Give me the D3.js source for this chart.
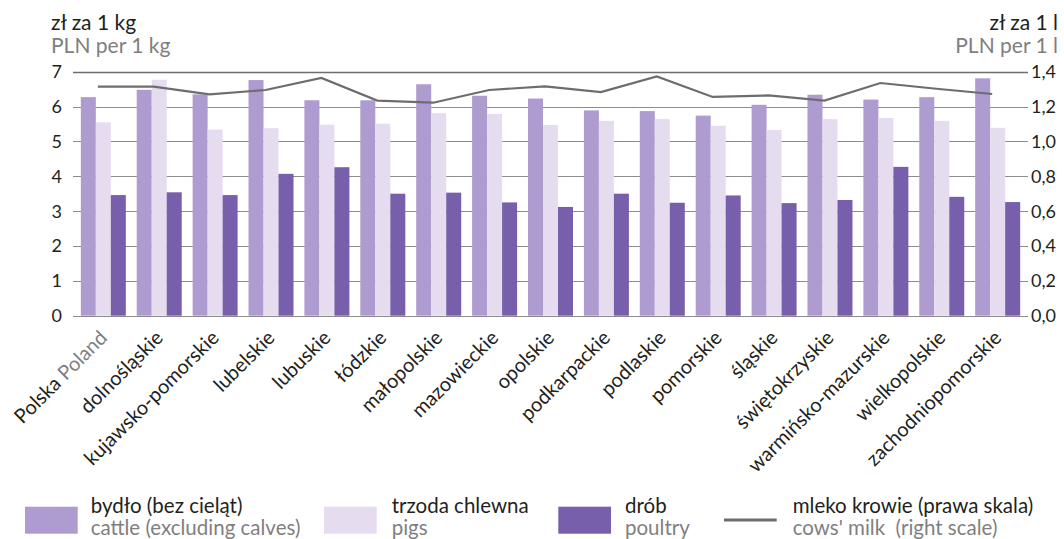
<!DOCTYPE html>
<html lang="pl">
<head>
<meta charset="utf-8">
<title>Ceny skupu</title>
<script src="https://d3js.org/d3.v7.min.js"></script>
<style>
  body { margin: 0; background: #fff; }
  svg text { font-family: Lato, "Open Sans", sans-serif; }
</style>
</head>
<body>
<script>
var width = 1064, height = 539;

// regions
var regions = ["Polska", "dolnośląskie", "kujawsko-pomorskie", "lubelskie", "lubuskie", "łódzkie",
  "małopolskie", "mazowieckie", "opolskie", "podkarpackie", "podlaskie", "pomorskie", "śląskie",
  "świętokrzyskie", "warmińsko-mazurskie", "wielkopolskie", "zachodniopomorskie"];

// PLN per 1 kg
var cattle  = [6.27, 6.48, 6.35, 6.76, 6.18, 6.18, 6.64, 6.31, 6.23, 5.89, 5.87, 5.74, 6.05, 6.34, 6.20, 6.27, 6.81];
var pigs    = [5.55, 6.77, 5.34, 5.38, 5.48, 5.51, 5.81, 5.79, 5.47, 5.59, 5.64, 5.45, 5.33, 5.64, 5.67, 5.59, 5.39];
var poultry = [3.46, 3.54, 3.46, 4.07, 4.26, 3.50, 3.53, 3.25, 3.12, 3.50, 3.24, 3.45, 3.23, 3.32, 4.27, 3.41, 3.26];
// PLN per 1 l (right scale)
var milk    = [1.314, 1.314, 1.270, 1.295, 1.364, 1.234, 1.222, 1.295, 1.316, 1.283, 1.373, 1.255, 1.264, 1.234, 1.335, 1.302, 1.272];

var leftTicks = [0, 1, 2, 3, 4, 5, 6, 7];
var rightTicks = [0, 0.2, 0.4, 0.6, 0.8, 1.0, 1.2, 1.4];

var seriesKeys = ["cattle", "pigs", "poultry"];
var colors = { cattle: "#ae9bd0", pigs: "#e5ddef", poultry: "#775fab" };
var ink = "#231f20", grey = "#7f7f7f";

var svg = d3.select("body").append("svg")
  .attr("width", width)
  .attr("height", height);

var plotLeft = 73, plotRight = 1028, plotTop = 71.7, plotBottom = 315.7;

var x0 = d3.scaleBand()
  .domain(regions)
  .range([plotLeft, plotRight])
  .paddingInner(0.195)
  .paddingOuter(0.14);

var x1 = d3.scaleBand()
  .domain(seriesKeys)
  .range([0, x0.bandwidth()]);

var yL = d3.scaleLinear().domain([0, 7]).range([plotBottom, plotTop]);
var yR = d3.scaleLinear().domain([0, 1.4]).range([plotBottom, plotTop]);

// gridlines
svg.append("g")
  .selectAll("line")
  .data(leftTicks)
  .enter().append("line")
    .attr("x1", plotLeft).attr("x2", plotRight)
    .attr("y1", function(d) { return Math.round(yL(d)) + 0.5; })
    .attr("y2", function(d) { return Math.round(yL(d)) + 0.5; })
    .attr("stroke", function(d) { return d == 7 ? "#6e6e6e" : "#8c8c8c"; })
    .attr("stroke-width", function(d) { return d == 7 ? 1.6 : 1.1; });

// left axis labels
svg.append("g")
  .selectAll("text")
  .data(leftTicks)
  .enter().append("text")
    .attr("x", 62)
    .attr("y", function(d) { return yL(d); })
    .attr("dy", "0.36em")
    .attr("text-anchor", "end")
    .attr("font-size", 18)
    .attr("fill", ink)
    .text(function(d) { return d; });

// right axis labels
var fmt = function(d) { return d.toFixed(1).replace(".", ","); };
svg.append("g")
  .selectAll("text")
  .data(rightTicks)
  .enter().append("text")
    .attr("x", 1031)
    .attr("y", function(d) { return yR(d); })
    .attr("dy", "0.36em")
    .attr("font-size", 18)
    .attr("fill", ink)
    .text(fmt);

// unit titles
svg.append("text").attr("x", 51).attr("y", 29.5).attr("font-size", 21).attr("fill", ink).text("zł za 1 kg");
svg.append("text").attr("x", 51).attr("y", 53).attr("font-size", 21).attr("fill", grey).text("PLN per 1 kg");
svg.append("text").attr("x", 1058).attr("y", 29.5).attr("font-size", 21).attr("fill", ink).attr("text-anchor", "end").text("zł za 1 l");
svg.append("text").attr("x", 1058).attr("y", 53).attr("font-size", 21).attr("fill", grey).attr("text-anchor", "end").text("PLN per 1 l");

// bars
var rows = regions.map(function(r, i) {
  return { region: r, cattle: cattle[i], pigs: pigs[i], poultry: poultry[i], milk: milk[i] };
});

svg.append("g")
  .selectAll("g")
  .data(rows)
  .enter().append("g")
    .attr("transform", function(d) { return "translate(" + x0(d.region) + ",0)"; })
  .selectAll("rect")
  .data(function(d) { return seriesKeys.map(function(k) { return { key: k, value: d[k] }; }); })
  .enter().append("rect")
    .attr("x", function(d) { return x1(d.key); })
    .attr("width", x1.bandwidth())
    .attr("y", function(d) { return yL(d.value); })
    .attr("height", function(d) { return plotBottom - yL(d.value); })
    .attr("fill", function(d) { return colors[d.key]; });

// milk line
var line = d3.line()
  .x(function(d) { return x0(d.region) + x0.bandwidth() / 2 - 5.5; })
  .y(function(d) { return yR(d.milk); });

svg.append("path")
  .datum(rows)
  .attr("d", line)
  .attr("fill", "none")
  .attr("stroke", "#6d6d6f")
  .attr("stroke-width", 2.2);

// x labels
var xl = svg.append("g")
  .selectAll("text")
  .data(regions)
  .enter().append("text")
    .attr("transform", function(d) {
      return "translate(" + (x0(d) + x0.bandwidth() / 2 + 5) + ",339) rotate(-45)";
    })
    .attr("text-anchor", "end")
    .attr("font-size", 20)
    .attr("fill", ink);

xl.each(function(d) {
  var t = d3.select(this);
  if (d == "Polska") {
    t.append("tspan").text("Polska ");
    t.append("tspan").attr("fill", grey).text("Poland");
  } else {
    t.text(d);
  }
});

// legend
var legend = [
  { pl: "bydło (bez cieląt)", en: "cattle (excluding calves)", x: 25, tx: 90.7, type: "rect", color: colors.cattle },
  { pl: "trzoda chlewna", en: "pigs", x: 324, tx: 391.7, type: "rect", color: colors.pigs },
  { pl: "drób", en: "poultry", x: 558.3, tx: 625, type: "rect", color: colors.poultry },
  { pl: "mleko krowie (prawa skala)", en: "cows' milk  (right scale)", x: 724, tx: 792.7, type: "line", color: "#6d6d6f" }
];

var lg = svg.append("g")
  .selectAll("g")
  .data(legend)
  .enter().append("g");

lg.filter(function(d) { return d.type == "rect"; })
  .append("rect")
    .attr("x", function(d) { return d.x; })
    .attr("y", 506.7)
    .attr("width", 52.7).attr("height", 27)
    .attr("fill", function(d) { return d.color; });

lg.filter(function(d) { return d.type == "line"; })
  .append("line")
    .attr("x1", function(d) { return d.x; })
    .attr("x2", function(d) { return d.x + 52.7; })
    .attr("y1", 520).attr("y2", 520)
    .attr("stroke", function(d) { return d.color; })
    .attr("stroke-width", 3);

lg.append("text")
  .attr("x", function(d) { return d.tx; })
  .attr("y", 513)
  .attr("font-size", 20.5)
  .attr("fill", ink)
  .text(function(d) { return d.pl; });

lg.append("text")
  .attr("x", function(d) { return d.tx; })
  .attr("y", 535)
  .attr("font-size", 20.5)
  .attr("fill", grey)
  .style("white-space", "pre")
  .text(function(d) { return d.en; });
</script>
</body>
</html>
